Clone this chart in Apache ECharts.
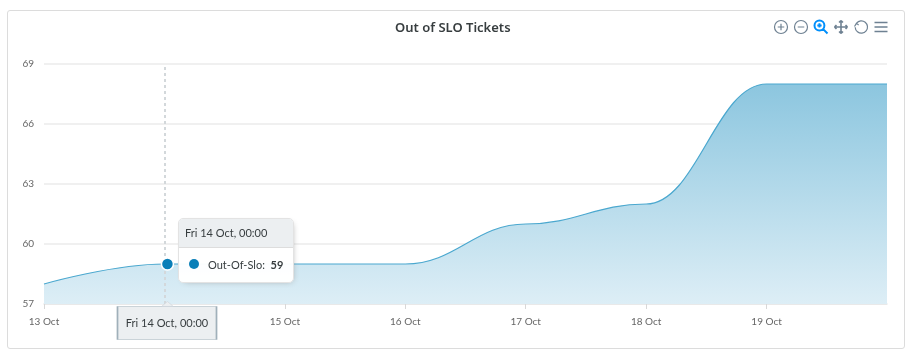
<!DOCTYPE html>
<html>
<head>
<meta charset="utf-8">
<title>Out of SLO Tickets</title>
<script src="https://cdn.jsdelivr.net/npm/echarts@6/dist/echarts.min.js"></script>
<style>
  html, body { margin: 0; padding: 0; background: #fff; }
  #card { position: absolute; left: 7px; top: 10px; width: 896px; height: 337px; border: 1px solid #dcdcdc; border-radius: 3px; }
  #chart { position: absolute; left: 0; top: 0; width: 914px; height: 360px; }
</style>
</head>
<body>
<div id="card"></div>
<div id="chart"></div>
<script>
const fontName = 'Lato, "Noto Sans", sans-serif'

// data
const categories = ['13 Oct', '14 Oct', '15 Oct', '16 Oct', '17 Oct', '18 Oct', '19 Oct', '20 Oct']
const hiddenLabels = ['14 Oct', '20 Oct']
const ticketValues = [58, 59, 59, 59, 61, 62, 68, 68]
const seriesName = 'Out-Of-Slo'
const activeIndex = 1
const activeLabel = 'Fri 14 Oct, 00:00'

const chart = echarts.init(document.getElementById('chart'))

// toolbar icons
function toolIcon(path, color, width) {
  return {
    show: true,
    title: '',
    icon: 'path://' + path,
    onclick: function () {},
    iconStyle: { color: 'none', borderColor: color, borderWidth: width || 1.2 },
    emphasis: { iconStyle: { color: 'none', borderColor: color } }
  }
}
const circle = 'M12 2a10 10 0 1 0 0 20a10 10 0 1 0 0-20z'

const option = {
  animation: false,
  textStyle: { fontFamily: fontName },
  title: {
    text: 'Out of SLO Tickets',
    left: 390,
    top: 17,
    textStyle: { fontFamily: '"Noto Sans", sans-serif', fontSize: 13, fontWeight: 600, color: '#373d3f' }
  },
  toolbox: {
    right: 9,
    top: 3,
    itemSize: 13,
    itemGap: 2,
    showTitle: false,
    feature: {
      myZoomIn: toolIcon(circle + 'M7 12h10M12 7v10', '#6e8192'),
      myZoomOut: toolIcon(circle + 'M7 12h10', '#6e8192'),
      myZoom: toolIcon('M10 2a8 8 0 1 0 0 16a8 8 0 1 0 0-16zM16 16l7 7M6.5 10h7M10 6.5v7', '#008ffb', 2),
      myPan: toolIcon('M12 2v20M2 12h20M12 2l-3 3M12 2l3 3M12 22l-3-3M12 22l3-3M2 12l3-3M2 12l3 3M22 12l-3-3M22 12l-3 3', '#6e8192', 1.6),
      myReset: toolIcon('M6 6a9 9 0 1 1-2 6M6 6l-3 5M6 6l3 3', '#6e8192'),
      myMenu: toolIcon('M2 5h20M2 12h20M2 19h20', '#6e8192', 1.6)
    }
  },
  grid: { left: 44, right: 27, top: 64, bottom: 56 },
  tooltip: {
    trigger: 'axis',
    alwaysShowContent: true,
    showContent: true,
    padding: 0,
    borderWidth: 1,
    borderColor: '#e3e3e3',
    backgroundColor: 'rgba(255,255,255,0.96)',
    extraCssText: 'border-radius:5px;overflow:hidden;box-shadow:2px 2px 6px -4px #999;',
    transitionDuration: 0,
    position: function () { return [178, 218] },
    axisPointer: { type: 'line', z: 3, lineStyle: { color: '#d3d8db', type: [3, 3], width: 2 } },
    formatter: function (params) {
      const p = params[0]
      return '<div style="font:11px Lato,sans-serif;color:#373d3f;width:114px">' +
        '<div style="background:#eceff1;border-bottom:1px solid #ddd;padding:7px 6px;height:14px;line-height:14px">' + activeLabel + '</div>' +
        '<div style="padding:10px 0 10px 10px;height:14px;line-height:14px;white-space:nowrap">' +
        '<span style="display:inline-block;width:10px;height:10px;border-radius:50%;background:#0a7fb8;margin-right:9px"></span>' +
        p.seriesName + ':&nbsp; <b>' + p.value + '</b></div></div>'
    }
  },
  xAxis: {
    type: 'category',
    data: categories,
    boundaryGap: false,
    axisLine: { lineStyle: { color: '#e6e6e6', width: 1.5 } },
    axisTick: {
      show: true,
      length: 5,
      interval: function (index, value) { return hiddenLabels.indexOf(value) < 0 },
      lineStyle: { color: '#d8d8d8' }
    },
    axisLabel: {
      color: '#666',
      fontSize: 10,
      margin: 13,
      showMaxLabel: true,
      formatter: function (v) { return hiddenLabels.indexOf(v) >= 0 ? '' : v }
    },
    splitLine: { show: false }
  },
  yAxis: {
    type: 'value',
    min: 57,
    max: 69,
    interval: 3,
    axisLine: { show: false },
    axisTick: { show: false },
    axisLabel: { color: '#666', fontSize: 10, margin: 10, padding: [0, 0, 4, 0] },
    splitLine: { lineStyle: { color: '#f0f0f0', width: 2 } }
  },
  series: [{
    name: seriesName,
    type: 'line',
    z: 2,
    data: ticketValues,
    smooth: 0.42,
    smoothMonotone: 'x',
    showSymbol: false,
    symbol: 'none',
    lineStyle: { color: '#4ba8cf', width: 1.2 },
    areaStyle: {
      opacity: 1,
      color: new echarts.graphic.LinearGradient(0, 0, 0, 1, [
        { offset: 0, color: '#8cc6df' },
        { offset: 1, color: '#ddeef6' }
      ])
    },
    emphasis: { disabled: true },
    markPoint: {
      silent: true,
      z: 5,
      data: [
        // hovered marker
        {
          coord: [activeIndex, ticketValues[activeIndex]],
          symbol: 'circle',
          symbolSize: 12,
          symbolOffset: [3, 0],
          itemStyle: { color: '#0a7fb8', borderColor: '#fff', borderWidth: 1.5 },
          label: { show: false }
        },
        // x axis crosshair label with its caret
        {
          coord: [activeIndex, 57],
          symbol: 'rect',
          symbolSize: [99, 33],
          symbolOffset: [2.57, 19],
          itemStyle: { color: '#eceff1', borderColor: '#a0b0ba', borderWidth: 1 },
          label: { show: true, position: 'inside', formatter: activeLabel, color: '#373d3f', fontSize: 11, fontFamily: fontName }
        },
        {
          coord: [activeIndex, 57],
          symbol: 'triangle',
          symbolSize: [12, 5],
          symbolOffset: [3, 0],
          itemStyle: { color: '#eceff1', borderColor: '#c8d0d6', borderWidth: 0.5 },
          label: { show: false }
        }
      ]
    }
  }]
}

chart.setOption(option)
chart.dispatchAction({ type: 'showTip', seriesIndex: 0, dataIndex: activeIndex })
</script>
</body>
</html>
